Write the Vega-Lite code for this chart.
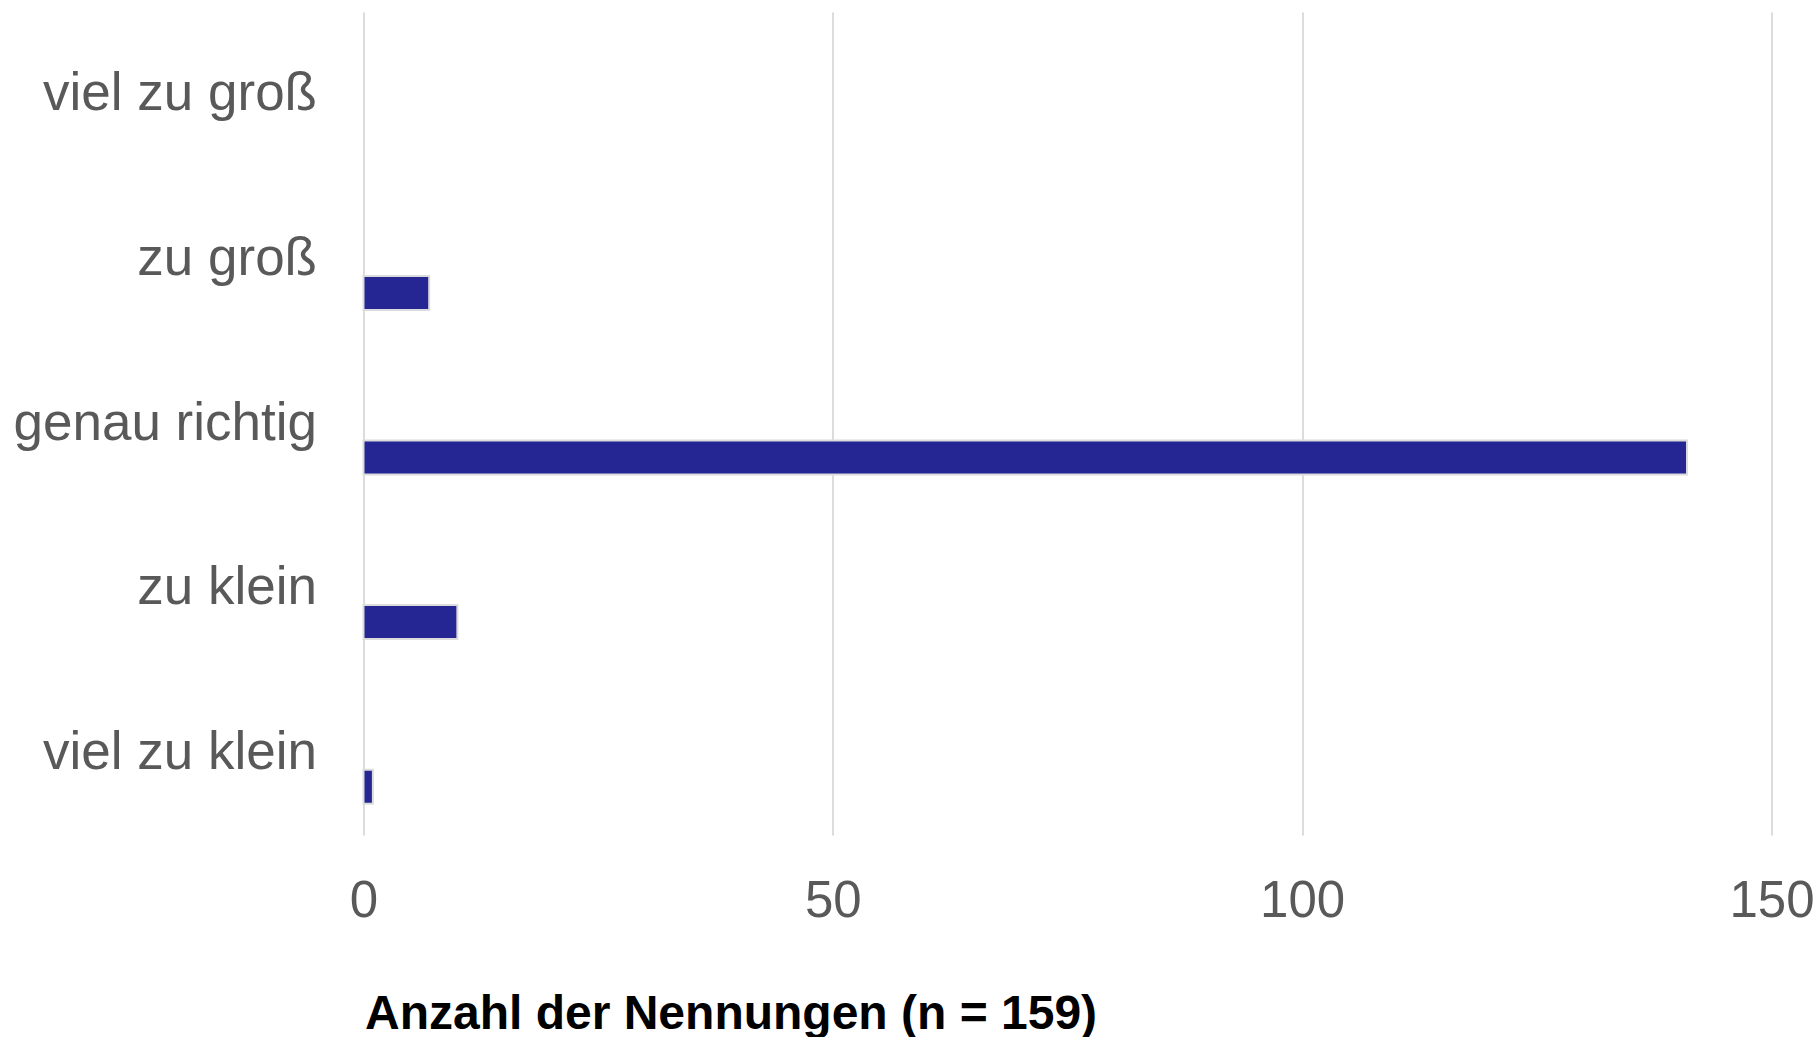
{
  "$schema": "https://vega.github.io/schema/vega-lite/v6.json",
  "width": 1408,
  "height": 823,
  "autosize": {"type": "none"},
  "padding": {"left": 363.5, "top": 12, "right": 48.5, "bottom": 202},
  "background": "white",
  "config": {
    "view": {"stroke": null},
    "font": "Liberation Sans"
  },
  "data": {
    "values": [
      {"kategorie": "viel zu groß", "anzahl": 0},
      {"kategorie": "zu groß", "anzahl": 7},
      {"kategorie": "genau richtig", "anzahl": 141},
      {"kategorie": "zu klein", "anzahl": 10},
      {"kategorie": "viel zu klein", "anzahl": 1}
    ]
  },
  "mark": {
    "type": "bar",
    "height": 34,
    "yOffset": 34,
    "fill": "#252594",
    "stroke": "#dcdcdc",
    "strokeWidth": 2
  },
  "encoding": {
    "y": {
      "field": "kategorie",
      "type": "nominal",
      "sort": ["viel zu groß", "zu groß", "genau richtig", "zu klein", "viel zu klein"],
      "scale": {"paddingInner": 0, "paddingOuter": 0},
      "axis": {
        "title": null,
        "domain": false,
        "ticks": false,
        "labelFontSize": 53,
        "labelColor": "#595959",
        "labelFont": "Liberation Sans",
        "labelPadding": 47,
        "labelBaseline": "middle",
        "labelLimit": 400
      }
    },
    "x": {
      "field": "anzahl",
      "type": "quantitative",
      "scale": {"domain": [0, 150], "nice": false},
      "axis": {
        "title": "Anzahl der Nennungen (n = 159)",
        "values": [0, 50, 100, 150],
        "domain": false,
        "ticks": false,
        "grid": true,
        "gridColor": "#dcdcdc",
        "gridWidth": 2,
        "labelFontSize": 51,
        "labelColor": "#595959",
        "labelFont": "Liberation Sans",
        "labelBaseline": "alphabetic",
        "labelPadding": 81,
        "labelFlush": false,
        "titleFont": "Liberation Sans",
        "titleFontSize": 48,
        "titleFontWeight": "bold",
        "titleColor": "#000000",
        "titleAnchor": "start",
        "titleAlign": "left",
        "titleBaseline": "alphabetic",
        "titleX": 1,
        "titleY": 193
      }
    },
    "strokeOpacity": {
      "condition": {"test": "datum.anzahl > 0", "value": 1},
      "value": 0
    }
  }
}
